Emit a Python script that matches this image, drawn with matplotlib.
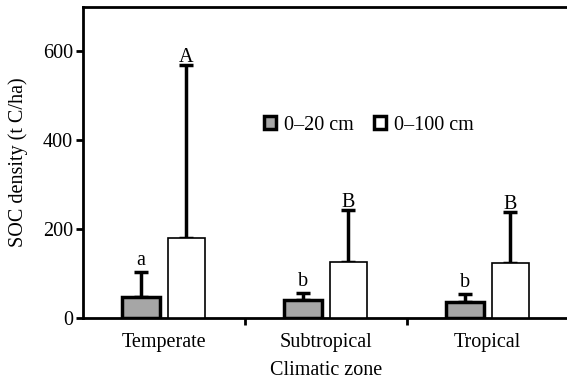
import numpy as np
import matplotlib
matplotlib.use('Agg')
import matplotlib.pyplot as plt
from matplotlib.patches import Patch

zones = ['Temperate', 'Subtropical', 'Tropical']
top20 = [47, 40, 36]
err20 = [56, 16, 18]
top100 = [180, 126, 124]
err100 = [389, 117, 114]
letters20 = ['a', 'b', 'b']
letters100 = ['A', 'B', 'B']

plt.rcParams['font.family'] = ['Liberation Serif', 'DejaVu Serif']
fs = 14.5

fig = plt.figure(figsize=(5.67, 3.79), dpi=100)
ax = fig.add_axes([0.146, 0.161, 0.857, 0.8205])

x = np.arange(len(zones)) + 0.5
w = 0.23
off = 0.14
ax.bar(x - off, top20, w, color='#a6a6a6', edgecolor='black', linewidth=2.5, zorder=3)
ax.bar(x + off, top100, w, color='white', edgecolor='black', linewidth=1.2, zorder=3)
ax.errorbar(x - off, top20, yerr=[np.zeros(3), err20], fmt='none', ecolor='black',
            elinewidth=2.5, capsize=5, capthick=2.5, zorder=2)
ax.errorbar(x + off, top100, yerr=[np.zeros(3), err100], fmt='none', ecolor='black',
            elinewidth=2.5, capsize=5, capthick=2.5, zorder=2)

for i in range(3):
    ax.text(x[i] - off, top20[i] + err20[i] + 4, letters20[i], ha='center', va='bottom', fontsize=fs)
    ax.text(x[i] + off, top100[i] + err100[i] - 4, letters100[i], ha='center', va='bottom', fontsize=fs)

ax.set_xlim(0, 3)
ax.set_ylim(0, 700)
ax.set_yticks([0, 200, 400, 600])
ax.set_xticks([1, 2])
ax.set_xticks(x, minor=True)
ax.set_xticklabels(['', ''])
ax.set_xticklabels(zones, minor=True)
ax.tick_params(axis='x', which='minor', length=0, pad=11, labelsize=fs)
ax.tick_params(axis='x', which='major', length=5, width=2, direction='out')
ax.tick_params(axis='y', length=5, width=2, direction='out', labelsize=fs, pad=2)

ax.spines['right'].set_visible(False)
for s in ['left', 'bottom', 'top']:
    ax.spines[s].set_linewidth(2)

ax.set_ylabel('SOC density (t C/ha)', fontsize=fs, labelpad=11)
ax.set_xlabel('Climatic zone', fontsize=fs, labelpad=6)

handles = [Patch(facecolor='#a6a6a6', edgecolor='black', linewidth=2.5, label='0\u201320 cm'),
           Patch(facecolor='white', edgecolor='black', linewidth=2.5, label='0\u2013100 cm')]
ax.legend(handles=handles, loc='center', bbox_to_anchor=(0.588, 0.62), ncol=2, frameon=False,
          fontsize=fs, handlelength=0.6, handleheight=0.6, handletextpad=0.4, columnspacing=1.0)

fig.savefig('out.png', dpi=100)
